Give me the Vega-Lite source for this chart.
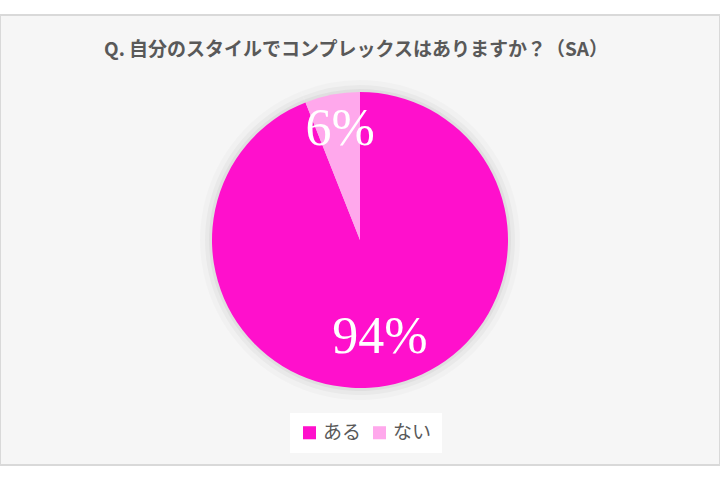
{
  "$schema": "https://vega.github.io/schema/vega-lite/v6.json",
  "width": 720,
  "height": 480,
  "autosize": {"type": "fit", "contains": "padding"},
  "padding": {"top": 15, "bottom": 15, "left": 0, "right": 0},
  "background": "white",
  "view": {"fill": "#f6f6f6", "stroke": "#d9d9d9", "strokeWidth": 2},
  "title": {
    "text": "Q. 自分のスタイルでコンプレックスはありますか？（SA）",
    "font": "Noto Sans CJK JP",
    "fontSize": 19,
    "fontWeight": "bold",
    "color": "#595959",
    "anchor": "middle",
    "baseline": "bottom",
    "offset": -64,
    "dx": -4
  },
  "data": {
    "values": [
      {"answer": "ある", "pct": 94},
      {"answer": "ない", "pct": 6}
    ]
  },
  "encoding": {
    "theta": {"field": "pct", "type": "quantitative", "stack": true},
    "order": {"field": "pct", "type": "quantitative", "sort": "descending"}
  },
  "layer": [
    {
      "mark": {"type": "arc", "outerRadius": 160, "fill": "#000000", "opacity": 0.02}
    },
    {
      "mark": {"type": "arc", "outerRadius": 155, "fill": "#000000", "opacity": 0.03}
    },
    {
      "mark": {"type": "arc", "outerRadius": 151, "fill": "#000000", "opacity": 0.04}
    },
    {
      "mark": {"type": "arc", "outerRadius": 148},
      "encoding": {
        "color": {
          "field": "answer",
          "type": "nominal",
          "sort": ["ある", "ない"],
          "scale": {"domain": ["ある", "ない"], "range": ["#ff10cc", "#ffa8ec"]},
          "legend": {
            "title": null,
            "orient": "none",
            "direction": "horizontal",
            "legendX": 290,
            "legendY": 398,
            "fillColor": "white",
            "padding": 10,
            "symbolType": "square",
            "symbolSize": 170,
            "symbolStrokeWidth": 0,
            "labelFont": "Noto Sans CJK JP",
            "labelFontSize": 19,
            "labelColor": "#595959",
            "columnPadding": 8
          }
        }
      }
    },
    {
      "mark": {
        "type": "text",
        "radius": 106,
        "dy": -7,
        "font": "Liberation Serif",
        "fontSize": 52,
        "color": "white",
        "align": "center",
        "baseline": "middle"
      },
      "encoding": {
        "text": {"field": "label", "type": "nominal"}
      },
      "transform": [
        {"calculate": "datum.pct + '%'", "as": "label"}
      ]
    }
  ]
}
